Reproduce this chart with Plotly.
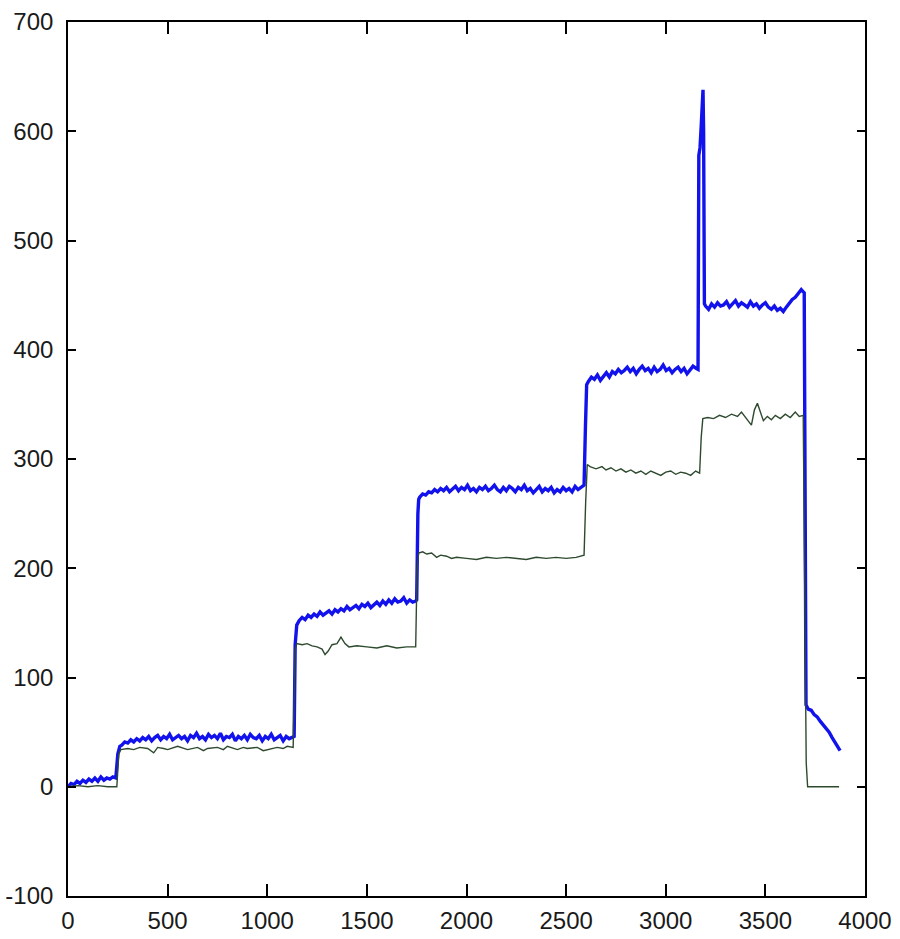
import plotly.graph_objects as go

# ---- data ----
# blue series: plateaus sampled every 15 units, with the step / spike points in between
blue_a_x = list(range(0, 241, 15))
blue_a_y = [0, 3, 2, 5, 3, 6, 4, 7, 5, 8, 5, 9, 6, 8, 7, 9, 8]
blue_s1_x = [250, 260]
blue_s1_y = [30, 37]
blue_b_x = list(range(270, 1126, 15))
blue_b_y = [38, 41, 40, 43, 41, 44, 42, 45, 43, 46, 42, 45, 47, 43, 46, 44, 48, 43, 45, 47,
            44, 46, 42, 47, 45, 49, 44, 46, 43, 48, 45, 47, 44, 49, 43, 46, 45, 48, 42, 46,
            44, 47, 43, 48, 45, 44, 47, 42, 46, 44, 48, 43, 45, 47, 42, 46, 44, 45]
blue_s2_x = [1135, 1140, 1148]
blue_s2_y = [46, 130, 148]
blue_c_x = list(range(1160, 1746, 15))
blue_c_y = [152, 155, 153, 157, 155, 158, 156, 160, 157, 159, 161, 158, 162, 160, 163, 161, 165, 162, 164, 166,
            163, 167, 165, 168, 164, 167, 169, 166, 170, 167, 171, 168, 172, 169, 170, 173, 168, 171, 169, 170]
blue_s3_x = [1750, 1756, 1760]
blue_s3_y = [171, 250, 263]
blue_d_x = list(range(1765, 2591, 15))
blue_d_y = [265, 268, 267, 270, 269, 272, 270, 273, 271, 274, 270, 273, 275, 271, 274, 272, 276, 271, 273, 270,
            274, 272, 275, 271, 273, 276, 272, 270, 274, 271, 275, 273, 270, 274, 272, 276, 271, 273, 269, 272,
            275, 270, 273, 271, 274, 269, 272, 270, 274, 271, 273, 270, 275, 272, 274, 276]
blue_s4_x = [2597, 2603]
blue_s4_y = [330, 368]
blue_e_x = list(range(2612, 3153, 15))
blue_e_y = [371, 375, 373, 377, 372, 376, 379, 375, 380, 378, 382, 379, 381, 384, 380, 383, 378, 382, 385, 381,
            383, 379, 384, 380, 382, 386, 381, 383, 379, 382, 384, 380, 383, 378, 382, 385, 383]
blue_spike_x = [3162, 3166, 3172, 3178, 3183, 3187, 3190, 3194]
blue_spike_y = [382, 578, 585, 605, 620, 638, 600, 442]
blue_f_x = list(range(3200, 3696, 15))
blue_f_y = [440, 437, 442, 439, 443, 440, 441, 444, 439, 442, 445, 440, 443, 441, 439, 444, 440, 442, 438, 441,
            443, 439, 437, 440, 436, 438, 435, 439, 443, 446, 448, 451, 455, 452]
blue_s5_x = [3699]
blue_s5_y = [300]
blue_g_x = [3704, 3715, 3730, 3745, 3760, 3775, 3790, 3805, 3820, 3835, 3850, 3865, 3875]
blue_g_y = [75, 71, 70, 66, 64, 60, 57, 53, 50, 45, 40, 36, 33]

green_x = [0, 50, 100, 150, 200, 245,
           255, 265,
           300, 330, 360, 400, 430, 450, 480, 500, 550, 580, 600, 650, 680, 700, 750, 780, 800, 850,
           880, 900, 950, 980, 1000, 1050, 1080, 1100, 1130,
           1140, 1148,
           1175, 1200, 1225, 1250, 1275, 1290, 1305, 1325, 1350, 1370, 1390, 1410, 1450, 1500, 1550, 1600,
           1650, 1700, 1745,
           1752, 1760,
           1780, 1800, 1825, 1850, 1870, 1900, 1925, 1950, 2000, 2050, 2100, 2150, 2200, 2250, 2300, 2350,
           2400, 2450, 2500, 2550, 2590,
           2598, 2606,
           2620, 2650, 2680, 2700, 2725, 2750, 2775, 2800, 2825, 2850, 2875, 2900, 2925, 2950, 2975, 3000,
           3025, 3050, 3075, 3100, 3125, 3150, 3170,
           3178, 3186,
           3210, 3240, 3270, 3300, 3330, 3360, 3380, 3400, 3415, 3430, 3445, 3460, 3475, 3490, 3510, 3530,
           3550, 3575, 3600, 3625, 3650, 3670, 3690,
           3698, 3705, 3712,
           3750, 3800, 3870]
green_y = [0, 1, 0, 1, 0, 0,
           30, 34,
           35, 34, 36, 35, 31, 36, 35, 34, 37, 35, 34, 36, 33, 35, 36, 34, 37, 34,
           36, 35, 36, 33, 34, 36, 35, 37, 36,
           125, 131,
           130, 131, 129, 128, 126, 121, 124, 130, 131, 137, 131, 128, 129, 128, 127, 129,
           127, 128, 128,
           200, 214,
           215, 213, 214, 210, 212, 211, 209, 210, 209, 208, 210, 209, 210, 209, 208, 210,
           209, 210, 209, 210, 212,
           260, 295,
           293, 291, 293, 290, 292, 289, 291, 288, 290, 287, 289, 286, 289, 287, 285, 288,
           289, 286, 288, 287, 285, 289, 287,
           320, 337,
           338, 337, 340, 338, 341, 339, 343, 338, 334, 331, 345, 351, 343, 335, 339, 336,
           340, 337, 341, 338, 343, 339, 340,
           200, 22, 0,
           0, 0, 0]

x_ticks = [0, 500, 1000, 1500, 2000, 2500, 3000, 3500, 4000]
y_ticks = [-100, 0, 100, 200, 300, 400, 500, 600, 700]

blue_x = (blue_a_x + blue_s1_x + blue_b_x + blue_s2_x + blue_c_x + blue_s3_x + blue_d_x
          + blue_s4_x + blue_e_x + blue_spike_x + blue_f_x + blue_s5_x + blue_g_x)
blue_y = (blue_a_y + blue_s1_y + blue_b_y + blue_s2_y + blue_c_y + blue_s3_y + blue_d_y
          + blue_s4_y + blue_e_y + blue_spike_y + blue_f_y + blue_s5_y + blue_g_y)

FONT = "Liberation Sans Narrow, Arial Narrow, Liberation Sans, Arial, sans-serif"

fig = go.Figure()
fig.add_trace(go.Scatter(x=blue_x, y=blue_y, mode="lines",
                         line=dict(color="#1212EC", width=3.4), showlegend=False))
fig.add_trace(go.Scatter(x=green_x, y=green_y, mode="lines",
                         line=dict(color="#2E4A2E", width=1.4), showlegend=False))

axis_common = dict(showline=True, linecolor="black", linewidth=1.6, mirror="ticks",
                   ticks="inside", tickcolor="black", tickwidth=1.6,
                   showgrid=False, zeroline=False, automargin=False,
                   tickfont=dict(family=FONT, size=24, color="#1a1a1a"))

fig.update_xaxes(range=[0, 4000], tickvals=x_ticks, ticktext=[str(v) for v in x_ticks],
                 ticklen=12, ticklabelstandoff=2, **axis_common)
fig.update_yaxes(range=[-100, 700], tickvals=y_ticks, ticktext=[str(v) for v in y_ticks],
                 ticklen=8, ticklabelstandoff=8, **axis_common)

fig.update_layout(width=900, height=939,
                  margin=dict(l=68, r=35, t=22, b=43, pad=0),
                  paper_bgcolor="white", plot_bgcolor="white")

fig.write_html("out.html")
